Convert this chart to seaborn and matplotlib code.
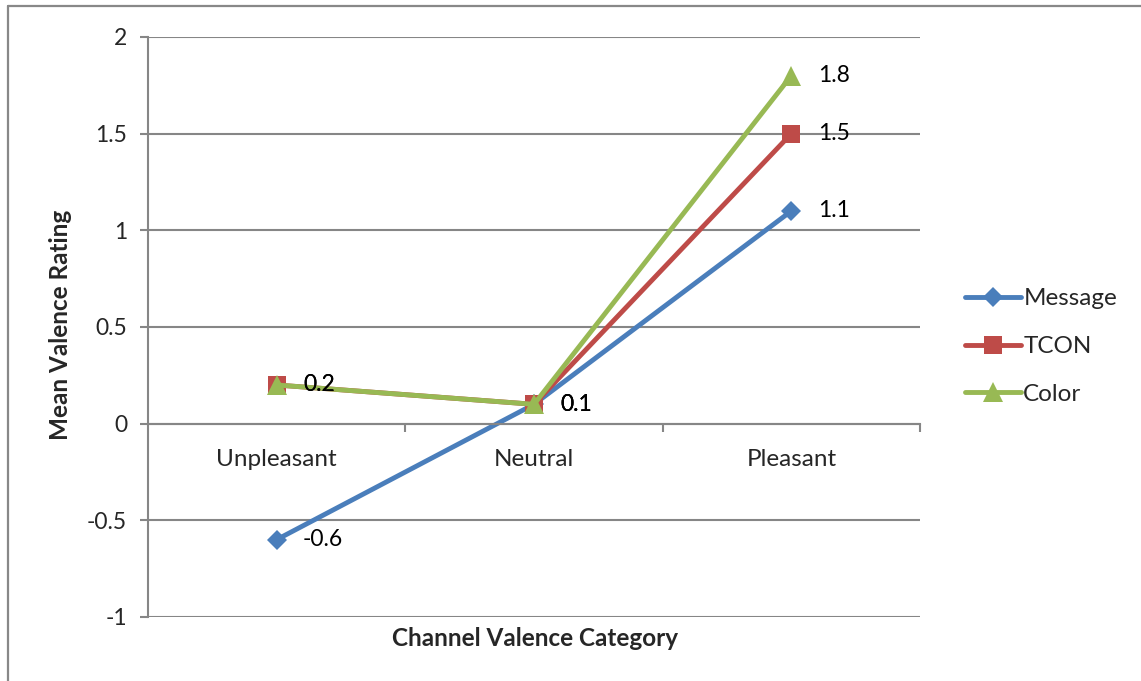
import matplotlib
matplotlib.use("Agg")
import matplotlib.pyplot as plt
import seaborn as sns
import pandas as pd
from matplotlib.lines import Line2D

# values
categories = ['Unpleasant', 'Neutral', 'Pleasant']
series_names = ['Message', 'TCON', 'Color']
message_vals = [-0.6, 0.1, 1.1]
tcon_vals = [0.2, 0.1, 1.5]
color_vals = [0.2, 0.1, 1.8]
y_ticks = [-1, -0.5, 0, 0.5, 1, 1.5, 2]

sns.set_theme(style="white")
plt.rcParams['font.family'] = ['Lato', 'DejaVu Sans']

colors = {'Message': '#4a7ebb', 'TCON': '#be4b48', 'Color': '#98b954'}
marker_map = {'Message': 'D', 'TCON': 's', 'Color': '^'}
marker_size = {'Message': 10, 'TCON': 13.5, 'Color': 15}

fig = plt.figure(figsize=(11.41, 6.81), dpi=100)
ax = fig.add_axes([0.1297, 0.094, 0.8063 - 0.1297, 0.9457 - 0.094])

for name, vals in zip(series_names, [message_vals, tcon_vals, color_vals]):
    d = pd.DataFrame({'Category': categories, 'Value': vals})
    sns.lineplot(data=d, x='Category', y='Value', color=colors[name], label=name,
                 marker=marker_map[name], markersize=marker_size[name],
                 markeredgewidth=0, linewidth=3.5, sort=False, ax=ax,
                 solid_capstyle='round', clip_on=False)

# data labels
for vals in [message_vals, tcon_vals, color_vals]:
    for i, v in enumerate(vals):
        ax.annotate(f'{v:g}', (i, v), xytext=(19, 0), textcoords='offset points',
                    ha='left', va='center', fontsize=16.5, color='black')

ax.set_xlim(-0.5, 2.5)
ax.set_ylim(-1, 2)
ax.set_yticks(y_ticks)
ax.set_yticklabels([f'{t:g}' for t in y_ticks], fontsize=16.5)
ax.yaxis.grid(True, color='#868686', linewidth=1.5)
ax.tick_params(axis='y', length=6, width=1.5, color='#868686', pad=9, left=True)

for s in ['top', 'right']:
    ax.spines[s].set_visible(False)
ax.spines['left'].set_color('#868686')
ax.spines['left'].set_linewidth(1.5)
ax.spines['bottom'].set_position(('data', 0))
ax.spines['bottom'].set_color('#868686')
ax.spines['bottom'].set_linewidth(1.5)

ax.set_xticks([0, 1, 2])
ax.set_xticklabels(categories, fontsize=17.5)
ax.set_xticks([0.5, 1.5, 2.5], minor=True)
ax.tick_params(axis='x', which='major', length=0, pad=18)
ax.tick_params(axis='x', which='minor', length=6, width=1.5, color='#868686', bottom=True)

ax.set_xlabel('')
ax.set_ylabel('')
fig.text(60 / 1141, 1 - 325 / 681, 'Mean Valence Rating', rotation=90,
         ha='center', va='center', fontsize=17.5, fontweight='bold')
fig.text(535 / 1141, 1 - 638 / 681, 'Channel Valence Category',
         ha='center', va='center', fontsize=17.5, fontweight='bold')

ax.legend(loc='center left', bbox_to_anchor=(1.03, 0.466),
          frameon=False, fontsize=17.5, handlelength=2.3, handletextpad=0.1,
          labelspacing=1.1)

# chart border (cropped at right and bottom)
fig.add_artist(Line2D([8 / 1141, 1.0], [1 - 6 / 681, 1 - 6 / 681],
                      transform=fig.transFigure, color='#888888', linewidth=1.6))
fig.add_artist(Line2D([8 / 1141, 8 / 1141], [0.0, 1 - 6 / 681],
                      transform=fig.transFigure, color='#888888', linewidth=1.6))

fig.savefig('out.png', dpi=100)
